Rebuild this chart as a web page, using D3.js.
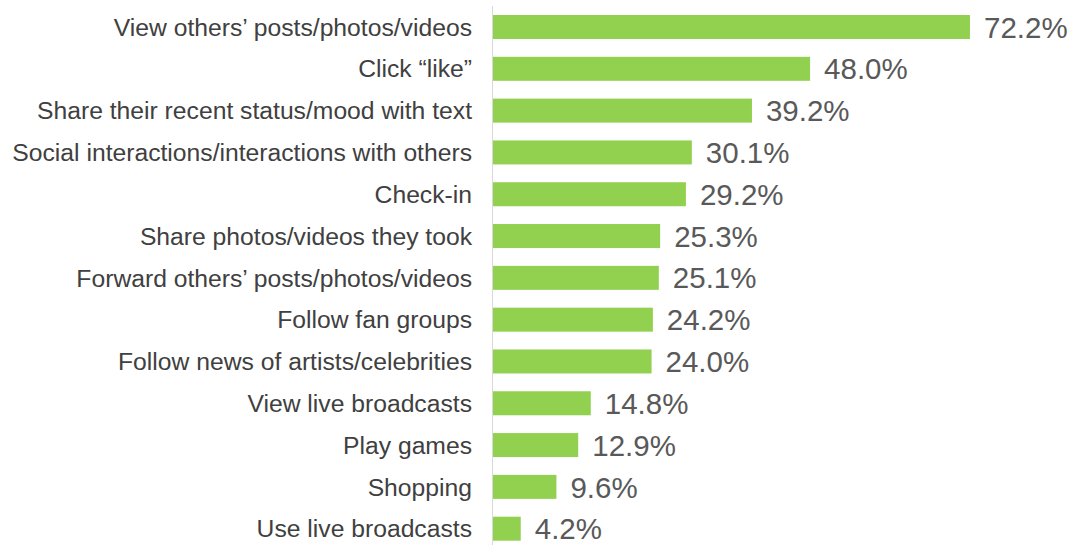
<!DOCTYPE html>
<html><head><meta charset="utf-8">
<script src="https://cdn.jsdelivr.net/npm/d3@7"></script>
<style>body{margin:0;background:#fff;} svg{display:block;}</style>
</head><body>
<svg id="c" width="1079" height="545"></svg>
<script>
const categories = [
  "View others\u2019 posts/photos/videos",
  "Click \u201clike\u201d",
  "Share their recent status/mood with text",
  "Social interactions/interactions with others",
  "Check-in",
  "Share photos/videos they took",
  "Forward others\u2019 posts/photos/videos",
  "Follow fan groups",
  "Follow news of artists/celebrities",
  "View live broadcasts",
  "Play games",
  "Shopping",
  "Use live broadcasts"
];
const values = [72.2, 48.0, 39.2, 30.1, 29.2, 25.3, 25.1, 24.2, 24.0, 14.8, 12.9, 9.6, 4.2];
const valueLabels = ["72.2%","48.0%","39.2%","30.1%","29.2%","25.3%","25.1%","24.2%","24.0%","14.8%","12.9%","9.6%","4.2%"];

const svg = d3.select("#c");
const x0 = 493;
const x = d3.scaleLinear().domain([0, 80]).range([x0, x0 + 528.5]);
const y = d3.scaleBand().domain(categories).range([6.1, 549.6]).paddingInner(0.426).paddingOuter(0.213);

svg.append("g").selectAll("rect").data(categories).join("rect")
  .attr("x", x(0))
  .attr("y", d => y(d))
  .attr("width", (d,i) => x(values[i]) - x(0))
  .attr("height", y.bandwidth())
  .attr("fill", "#92d050");

svg.append("line").attr("x1", x0 - 0.5).attr("x2", x0 - 0.5).attr("y1", 6).attr("y2", 545)
  .attr("stroke", "#d9d9d9").attr("stroke-width", 1);

const yAxis = d3.axisLeft(y).tickSize(0).tickPadding(0);
const ga = svg.append("g").attr("transform", `translate(472,0)`).call(yAxis);
ga.select(".domain").remove();
ga.selectAll("text").attr("font-family", "Liberation Sans, Arial, sans-serif")
  .attr("font-size", 24.7).attr("fill", "#404040").attr("dy", "0.35em");

svg.append("g").selectAll("text").data(categories).join("text")
  .attr("x", (d,i) => x(values[i]) + 14)
  .attr("y", d => y(d) + y.bandwidth()/2)
  .attr("dy", "0.36em")
  .attr("font-family", "Liberation Sans, Arial, sans-serif")
  .attr("font-size", 29.5).attr("fill", "#595959")
  .text((d,i) => valueLabels[i]);
</script>
</body></html>
